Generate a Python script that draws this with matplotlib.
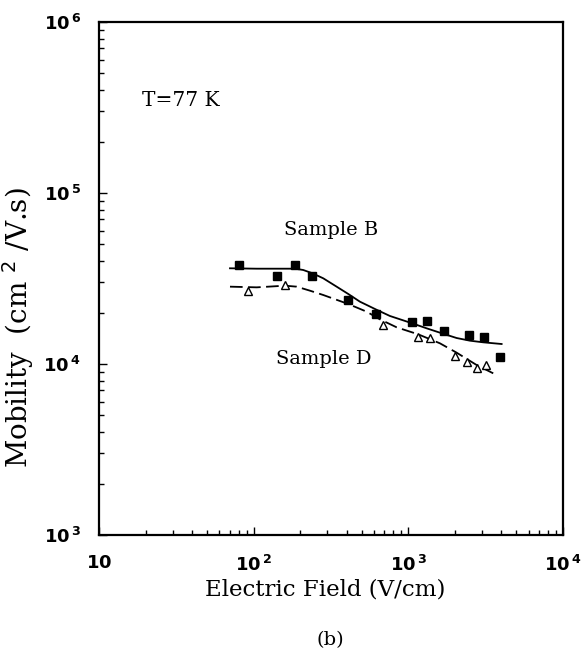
import matplotlib
matplotlib.use("Agg")
import matplotlib.pyplot as plt
from matplotlib.ticker import LogLocator, FixedLocator, FixedFormatter, NullFormatter

# Sample B data (filled squares)
field_B = [80.4, 140.8, 185, 240, 409, 615, 1060, 1313, 1699, 2476, 3096, 3909]
mob_B = [37700, 32600, 37700, 32500, 23700, 19600, 17700, 17900, 15500, 14800, 14450, 11040]

# Sample D data (open triangles)
field_D = [91.4, 159.3, 688, 1159, 1380, 2001, 2382, 2763, 3175]
mob_D = [26600, 28800, 16900, 14450, 14200, 11090, 10220, 9420, 9910]

# Fit curves
fit_B_x = [70.3, 104.6, 147.9, 185, 209.2, 240, 281.8, 343.9, 409, 486.7, 615,
           760.4, 1060, 1313, 1699, 2052, 2500, 3049, 4010]
fit_B_y = [36280, 36090, 36090, 36090, 35460, 33920, 31700, 28330, 25670, 23140, 20880,
           19090, 17290, 16170, 14980, 14190, 13690, 13390, 13090]
fit_D_x = [70.3, 104.6, 159.3, 189.7, 231.2, 281.8, 409, 537.6, 655, 840, 1159,
           1601, 2052, 2763, 3539]
fit_D_y = [28330, 28070, 28710, 28330, 26840, 25320, 22430, 20230, 18250, 16390, 14910,
           13210, 11650, 9867, 8820]

x_ticks = [10, 100, 1000, 10000]
x_ticklabels = [r"$\mathbf{10}$", r"$\mathbf{10^{\,2}}$", r"$\mathbf{10^{\,3}}$", r"$\mathbf{10^{\,4}}$"]
y_ticks = [1e3, 1e4, 1e5, 1e6]
y_ticklabels = [r"$\mathbf{10^{\,3}}$", r"$\mathbf{10^{\,4}}$", r"$\mathbf{10^{\,5}}$", r"$\mathbf{10^{\,6}}$"]

plt.rcParams['mathtext.fontset'] = 'dejavusans'

fig = plt.figure(figsize=(5.81, 6.55), dpi=100)
ax = fig.add_axes([99/581, 1-535/655, (563-99)/581, (535-22)/655])

ax.plot(fit_B_x, fit_B_y, color='black', lw=1.3, solid_joinstyle='round')
ax.plot(fit_D_x, fit_D_y, color='black', lw=1.3, dashes=(7, 3))
ax.plot(field_B, mob_B, 's', color='black', ms=5.5, ls='none')
ax.plot(field_D, mob_D, '^', mfc='white', mec='black', mew=1.0, ms=5.5, ls='none')

ax.set_xscale('log')
ax.set_yscale('log')
ax.set_xlim(10, 1e4)
ax.set_ylim(1e3, 1e6)

ax.xaxis.set_major_locator(FixedLocator(x_ticks))
ax.xaxis.set_major_formatter(FixedFormatter(x_ticklabels))
ax.yaxis.set_major_locator(FixedLocator(y_ticks))
ax.yaxis.set_major_formatter(FixedFormatter(y_ticklabels))
ax.xaxis.set_minor_locator(LogLocator(base=10, subs=range(2, 10)))
ax.yaxis.set_minor_locator(LogLocator(base=10, subs=range(2, 10)))
ax.xaxis.set_minor_formatter(NullFormatter())
ax.yaxis.set_minor_formatter(NullFormatter())

ax.tick_params(which='both', direction='in', top=False, right=False,
               labelsize=13, width=1.0)
ax.tick_params(which='major', length=6)
ax.tick_params(which='minor', length=3.5)
ax.tick_params(axis='x', pad=14)
ax.tick_params(axis='y', pad=13)

for sp in ax.spines.values():
    sp.set_linewidth(1.6)

serif = 'DejaVu Serif'
ax.set_xlabel('Electric Field (V/cm)', fontsize=16.5, family=serif)
ax.xaxis.set_label_coords(0.487, -0.085)
ax.set_ylabel(r'Mobility  (cm $^{2}$ /V.s)', fontsize=20, family=serif)
ax.yaxis.set_label_coords(-0.135, 0.4035)

ax.text(0.092, 0.847, 'T=77 K', transform=ax.transAxes, fontsize=14.5, family=serif,
        ha='left', va='center')
ax.text(0.50, 0.594, 'Sample B', transform=ax.transAxes, fontsize=14, family=serif,
        ha='center', va='center')
ax.text(0.485, 0.344, 'Sample D', transform=ax.transAxes, fontsize=14, family=serif,
        ha='center', va='center')

fig.text(330/581, 1-640/655, '(b)', fontsize=14, family=serif, ha='center', va='center')

fig.savefig('out.png', dpi=100)
